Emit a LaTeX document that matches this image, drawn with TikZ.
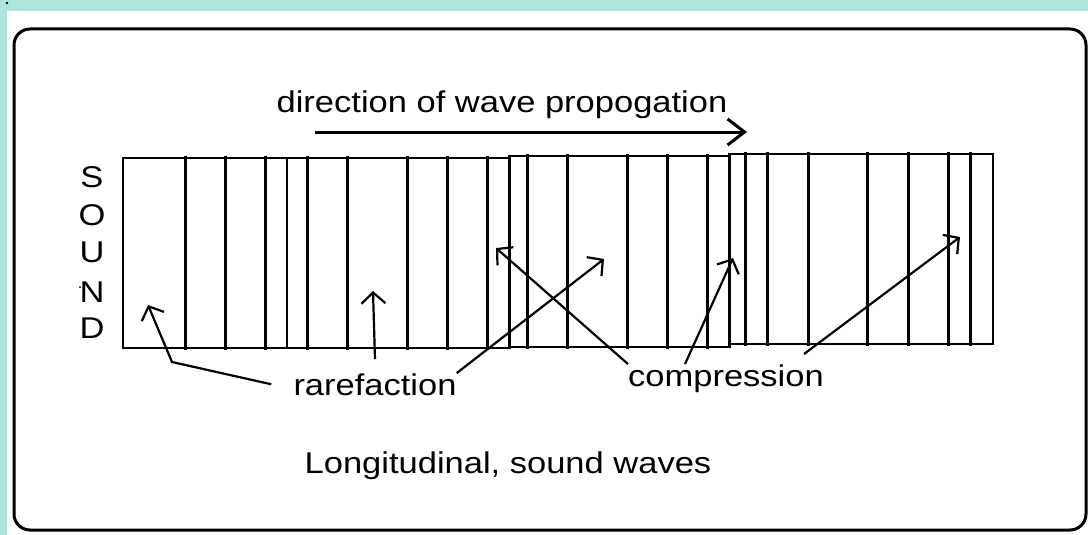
\documentclass[tikz,border=0pt]{standalone}
\usepackage{fontspec}
\setmainfont{Liberation Sans}[FakeStretch=1.15]
\usetikzlibrary{arrows.meta,positioning}
\definecolor{bgteal}{HTML}{ADE6DD}
\definecolor{inkblack}{HTML}{000000}

\begin{document}
\begin{tikzpicture}[
  x=1pt, y=-1pt,
  wavetext/.style={inner sep=0pt, anchor=base, font=\fontsize{30}{36}\selectfont},
  tubebox/.style={draw=inkblack, line width=1.5pt},
  layer/.style={draw=inkblack, line width=3pt},
  thinlayer/.style={draw=inkblack, line width=1.5pt},
  pointer/.style={-{Straight Barb[length=11pt, width=24pt]}, draw=inkblack, line width=2.2pt},
  bigarrow/.style={-{Straight Barb[length=17pt, width=26pt]}, draw=inkblack, line width=3pt}
]
  \useasboundingbox (0,0) rectangle (1088,535);
  \fill[bgteal] (0,0) rectangle (1088,535);
  \fill[white] (7,11) rectangle (1088,535);
  \fill[inkblack] (7,3) circle (1.3);
  \draw[inkblack, line width=3pt, rounded corners=16pt] (14,29) rectangle (1086,530);

  % heading and its arrow
  \node[wavetext] (dirlabel) at (502,113) {direction of wave propogation};
  \coordinate (dstart) at (315,132);
  \coordinate (dend) at (747,132);
  \draw[bigarrow] (dstart) -- (dend);

  % the air column
  \draw[tubebox] (123,158) rectangle (509,348);
  \draw[tubebox] (509,156) rectangle (729,347);
  \draw[tubebox] (729,154) rectangle (993,344);
  \foreach \xpos in {185,225,265,307,347,407,447,487}
    \draw[layer] (\xpos,156) -- (\xpos,350);
  \draw[thinlayer] (287,158) -- (287,348);
  \draw[layer] (509,155) -- (509,349);
  \foreach \xpos in {527,567,627,667,707}
    \draw[layer] (\xpos,154) -- (\xpos,349);
  \draw[layer] (729,153) -- (729,348);
  \foreach \xpos in {745,767,808,867,908,948,970}
    \draw[layer] (\xpos,152) -- (\xpos,346);

  % SOUND
  \node[wavetext] (ls) at (92,187) {S};
  \node[wavetext] (lo) at (92,225) {O};
  \node[wavetext] (lu) at (92,262) {U};
  \node[wavetext] (ln) at (92,302) {N};
  \node[wavetext] (ld) at (92,338) {D};
  \fill[inkblack] (80,287) circle (1);

  % labels
  \node[wavetext] (rare) at (375,395) {rarefaction};
  \node[wavetext] (comp) at (726,386) {compression};
  \node[wavetext] (title) at (508,473) {Longitudinal, sound waves};

  \coordinate (rtipa) at (148,305);
  \coordinate (rbend) at (172,362);
  \coordinate (rtipb) at (373,291);
  \coordinate (rtipc) at (604,259);
  \coordinate (ctipa) at (496,248);
  \coordinate (ctipb) at (733,258);
  \coordinate (ctipc) at (960,237);

  \draw[pointer] ([xshift=-22pt]rare.west) -- (rbend) -- (rtipa);
  \draw[pointer] ([yshift=14pt]rare.north) -- (rtipb);
  \draw[pointer] (rare.north east) -- (rtipc);
  \draw[pointer] (comp.north west) -- (ctipa);
  \draw[pointer] ([xshift=-41pt]comp.north) -- (ctipb);
  \draw[pointer] ([shift={(-20pt,10pt)}]comp.north east) -- (ctipc);
\end{tikzpicture}
\end{document}
